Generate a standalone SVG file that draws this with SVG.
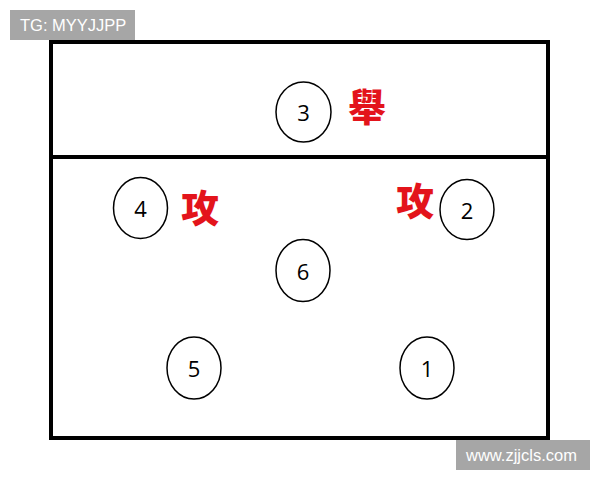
<svg xmlns="http://www.w3.org/2000/svg" width="600" height="480" viewBox="0 0 600 480">
<style>
.pos ellipse{fill:#fff;stroke:#000;stroke-width:1.5}
.pos text{font-family:"Open Sans","Liberation Sans",sans-serif;font-size:22px;fill:#000;text-anchor:middle;dominant-baseline:central}
.red{font-family:"Noto Sans CJK TC","Noto Sans CJK SC",sans-serif;font-weight:900;font-size:38px;fill:#e3141b;text-anchor:middle;dominant-baseline:central}
.wm rect{fill:#a6a6a6}
.wm text{font-family:"Liberation Sans",sans-serif;font-size:16.5px;fill:#fff}
</style>
<rect width="600" height="480" fill="#fff"/>
<g id="court">
<rect x="51" y="42" width="497" height="396" fill="#fff" stroke="#000" stroke-width="4"/>
<line x1="51" y1="157" x2="548" y2="157" stroke="#000" stroke-width="4"/>
</g>
<g id="p3" class="pos"><ellipse cx="303.5" cy="112" rx="27.5" ry="30"/><text x="303.5" y="112">3</text></g>
<g id="p4" class="pos"><ellipse cx="140.5" cy="208" rx="27" ry="30.5"/><text x="140.5" y="208">4</text></g>
<g id="p2" class="pos"><ellipse cx="467" cy="209.5" rx="27" ry="30"/><text x="467" y="209.5">2</text></g>
<g id="p6" class="pos"><ellipse cx="303" cy="270.5" rx="27" ry="31"/><text x="303" y="270.5">6</text></g>
<g id="p5" class="pos"><ellipse cx="194" cy="368" rx="27" ry="31"/><text x="194" y="368">5</text></g>
<g id="p1" class="pos"><ellipse cx="427" cy="368" rx="27" ry="31"/><text x="427" y="368">1</text></g>
<g id="labels">
<text class="red" x="367" y="104">舉</text>
<text class="red" x="200" y="205">攻</text>
<text class="red" x="415" y="198">攻</text>
</g>
<g id="watermark-tl" class="wm"><rect x="10" y="10" width="125" height="30"/><text x="20" y="31">TG: MYYJJPP</text></g>
<g id="watermark-br" class="wm"><rect x="456" y="440" width="134" height="30"/><text x="466" y="461" font-size="17.5">www.zjjcls.com</text></g>
</svg>
